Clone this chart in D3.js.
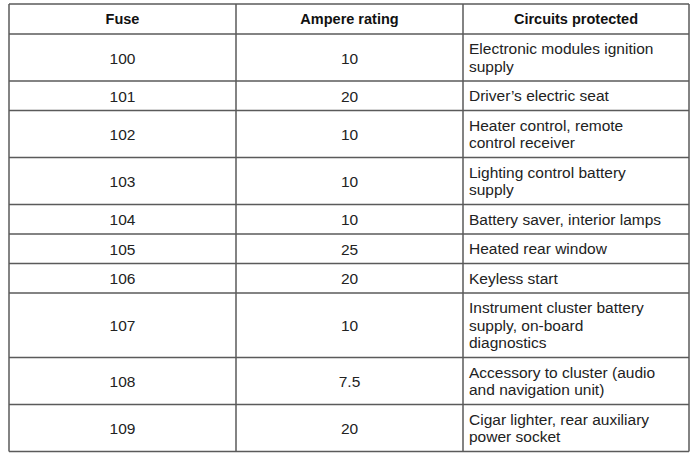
<!DOCTYPE html>
<html><head><meta charset="utf-8">
<script src="https://cdn.jsdelivr.net/npm/d3@7"></script>
<style>body{margin:0;background:#fff}</style>
</head><body><svg id="chart" width="696" height="465"></svg>
<script>
const headers = ["Fuse", "Ampere rating", "Circuits protected"];
const fuses = ["100","101","102","103","104","105","106","107","108","109"];
const amps = ["10","20","10","10","10","25","20","10","7.5","20"];
const circuits = [
  ["Electronic modules ignition", "supply"],
  ["Driver’s electric seat"],
  ["Heater control, remote", "control receiver"],
  ["Lighting control battery", "supply"],
  ["Battery saver, interior lamps"],
  ["Heated rear window"],
  ["Keyless start"],
  ["Instrument cluster battery", "supply, on-board", "diagnostics"],
  ["Accessory to cluster (audio", "and navigation unit)"],
  ["Cigar lighter, rear auxiliary", "power socket"]
];

const svg = d3.select("#chart");
const colX = [9, 236, 463, 689];
const topY = 4, headH = 30, lineH = 17.5, baseH = 29.5;

// cumulative row positions
let y = topY + headH;
const rows = fuses.map((f, i) => {
  const h = baseH + lineH * (circuits[i].length - 1);
  const r = {fuse: f, amp: amps[i], lines: circuits[i], y: y, h: h};
  y += h;
  return r;
});
const bottom = y;
const font = "'Liberation Sans', Arial, sans-serif";
const stroke = "#5a5a5a";

// header
svg.selectAll(".hd").data(headers).enter().append("text")
  .attr("x", (d, i) => i < 2 ? (colX[i] + colX[i+1]) / 2 : 576)
  .attr("y", topY + headH / 2 + 5)
  .attr("text-anchor", "middle")
  .style("font-family", font).style("font-weight", "bold").style("font-size", "14.5px")
  .attr("fill", "#111").text(d => d);

const g = svg.selectAll(".row").data(rows).enter().append("g");
g.append("text").attr("x", (colX[0] + colX[1]) / 2).attr("y", d => d.y + d.h / 2 + 6)
  .attr("text-anchor", "middle").style("font-family", font).style("font-size", "15.5px")
  .attr("fill", "#222").text(d => d.fuse);
g.append("text").attr("x", (colX[1] + colX[2]) / 2).attr("y", d => d.y + d.h / 2 + 6)
  .attr("text-anchor", "middle").style("font-family", font).style("font-size", "15.5px")
  .attr("fill", "#222").text(d => d.amp);
g.each(function(d) {
  d3.select(this).selectAll(".c").data(d.lines).enter().append("text")
    .attr("x", colX[2] + 6)
    .attr("y", (t, k) => d.y + 20 + k * lineH)
    .style("font-family", font).style("font-size", "15.5px")
    .attr("fill", "#222").text(t => t);
});

// grid lines
const hLines = [topY, topY + headH].concat(rows.map(r => r.y + r.h));
svg.selectAll(".hl").data(hLines).enter().append("line")
  .attr("x1", colX[0]).attr("x2", colX[3]).attr("y1", d => d).attr("y2", d => d)
  .attr("stroke", stroke).attr("stroke-width", 1.5);
svg.selectAll(".vl").data(colX).enter().append("line")
  .attr("x1", d => d).attr("x2", d => d).attr("y1", topY).attr("y2", bottom)
  .attr("stroke", stroke).attr("stroke-width", 1.5);
</script></body></html>
